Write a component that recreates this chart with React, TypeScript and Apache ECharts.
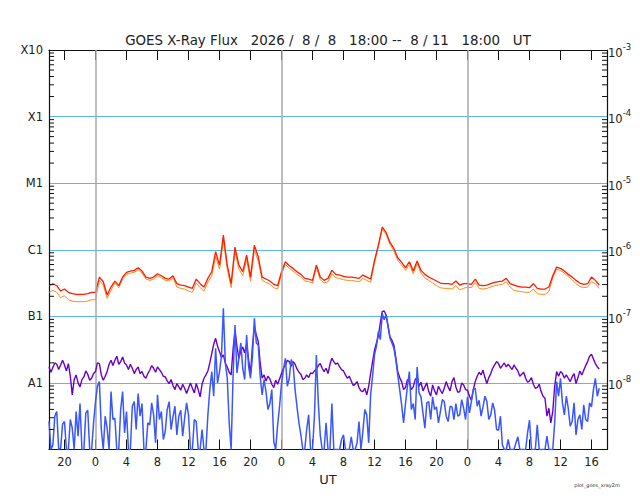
import React, { useEffect, useRef } from "react";
import * as echarts from "echarts";

const TITLE = "GOES X-Ray Flux   2026 /  8 /  8   18:00 --  8 / 11   18:00   UT";
const X_NAME = "UT";
const FOOTNOTE = "plot_goes_xray2m";
const START_HOUR_OF_DAY = 18; // 8/8 18:00 UT
const SPAN_HOURS = 72;
const LONG_STEP_HOURS = 0.5;
const SHORT_STEP_HOURS = 0.25;
const X_TICK_HOURS = [2, 6, 10, 14, 18, 22, 26, 30, 34, 38, 42, 46, 50, 54, 58, 62, 66, 70];
const DAY_BOUNDARY_HOURS = [6, 30, 54];
const MINOR_MULTIPLIERS = [2, 3, 4, 5, 6, 7, 8, 9];
const MINOR_DECADES = [-9, -8, -7, -6, -5, -4];
const CLASS_LABELS: Record<string, string> = { "-3": "X10", "-4": "X1", "-5": "M1", "-6": "C1", "-7": "B1", "-8": "A1", "-9": "" };

// log10 of flux (W/m^2), every 0.5 h from 8/8 18:00 UT (1-8 A)
const LONG_PRIMARY_LOG = [
  -6.54, -6.51, -6.54, -6.62, -6.59, -6.64, -6.66, -6.67, -6.67, -6.67, -6.66, -6.64, -6.64, -6.41, -6.48, -6.68, -6.56, -6.47,
  -6.54, -6.41, -6.34, -6.32, -6.31, -6.27, -6.32, -6.41, -6.43, -6.41, -6.36, -6.39, -6.43, -6.44, -6.39, -6.51, -6.53, -6.54,
  -6.56, -6.58, -6.44, -6.51, -6.56, -6.43, -6.33, -6.03, -6.23, -5.78, -6.23, -6.51, -5.96, -6.23, -6.33, -6.08, -6.41, -5.93,
  -6.11, -6.41, -6.44, -6.47, -6.52, -6.54, -6.33, -6.18, -6.24, -6.28, -6.33, -6.37, -6.43, -6.44, -6.46, -6.23, -6.41, -6.46,
  -6.43, -6.31, -6.37, -6.38, -6.40, -6.41, -6.41, -6.42, -6.43, -6.38, -6.41, -6.44, -6.16, -5.93, -5.66, -5.74, -5.89, -5.98,
  -6.12, -6.19, -6.27, -6.18, -6.32, -6.17, -6.31, -6.37, -6.41, -6.44, -6.47, -6.50, -6.51, -6.51, -6.52, -6.47, -6.53, -6.51,
  -6.51, -6.52, -6.44, -6.53, -6.54, -6.53, -6.51, -6.49, -6.48, -6.47, -6.43, -6.51, -6.53, -6.55, -6.56, -6.56, -6.57, -6.51,
  -6.58, -6.59, -6.59, -6.56, -6.39, -6.26, -6.28, -6.32, -6.37, -6.41, -6.46, -6.50, -6.52, -6.51, -6.41, -6.46, -6.53,
];

const LONG_SECONDARY_LOG = [
  -6.64, -6.61, -6.64, -6.72, -6.69, -6.75, -6.77, -6.78, -6.78, -6.78, -6.77, -6.75, -6.75, -6.46, -6.53, -6.73, -6.61, -6.50,
  -6.57, -6.44, -6.37, -6.35, -6.34, -6.30, -6.35, -6.44, -6.46, -6.44, -6.39, -6.42, -6.46, -6.47, -6.42, -6.56, -6.58, -6.59,
  -6.62, -6.64, -6.50, -6.57, -6.62, -6.49, -6.39, -6.10, -6.29, -5.87, -6.29, -6.57, -6.03, -6.29, -6.39, -6.15, -6.47, -6.00,
  -6.17, -6.46, -6.49, -6.52, -6.57, -6.59, -6.37, -6.22, -6.28, -6.32, -6.37, -6.41, -6.47, -6.48, -6.50, -6.27, -6.45, -6.50,
  -6.48, -6.36, -6.42, -6.43, -6.45, -6.46, -6.46, -6.47, -6.48, -6.43, -6.46, -6.49, -6.20, -5.96, -5.69, -5.77, -5.92, -6.02,
  -6.16, -6.23, -6.31, -6.22, -6.36, -6.21, -6.35, -6.42, -6.46, -6.50, -6.54, -6.57, -6.58, -6.58, -6.59, -6.54, -6.60, -6.58,
  -6.56, -6.57, -6.49, -6.58, -6.59, -6.58, -6.56, -6.54, -6.53, -6.52, -6.48, -6.56, -6.61, -6.62, -6.63, -6.64, -6.64, -6.59,
  -6.66, -6.67, -6.67, -6.63, -6.42, -6.29, -6.31, -6.35, -6.40, -6.45, -6.51, -6.55, -6.57, -6.56, -6.48, -6.51, -6.58,
];

// log10 of flux, every 0.25 h (0.5-4 A)
const SHORT_PRIMARY_LOG = [
  -7.76, -7.84, -7.77, -7.70, -7.72, -7.80, -7.73, -7.66, -7.73, -7.82, -7.71, -7.90, -8.18, -7.95, -7.88, -8.00, -8.06, -7.95,
  -7.91, -7.82, -7.87, -7.96, -7.93, -7.86, -7.83, -7.70, -7.71, -7.88, -7.96, -7.90, -7.83, -7.72, -7.66, -7.74, -7.66, -7.60,
  -7.72, -7.68, -7.61, -7.70, -7.73, -7.80, -7.72, -7.78, -7.86, -7.80, -7.76, -7.86, -7.83, -7.90, -7.93, -7.86, -7.81, -7.74,
  -7.78, -7.84, -7.76, -7.80, -7.84, -7.90, -7.91, -7.97, -8.01, -7.95, -8.04, -8.10, -8.01, -8.06, -8.11, -8.02, -8.08, -8.16,
  -8.08, -8.00, -8.08, -8.15, -8.01, -8.10, -8.21, -8.02, -7.93, -7.88, -7.82, -7.70, -7.56, -7.42, -7.33, -7.45, -7.53, -7.62,
  -7.58, -7.70, -7.76, -7.84, -7.88, -7.50, -7.21, -7.45, -7.63, -7.52, -7.46, -7.55, -7.41, -7.65, -7.86, -7.45, -7.16, -7.28,
  -7.38, -7.70, -7.93, -7.88, -7.97, -7.90, -7.94, -8.02, -8.07, -7.96, -8.02, -7.94, -7.86, -7.78, -7.73, -7.66, -7.68, -7.75,
  -7.68, -7.72, -7.79, -7.84, -7.87, -7.95, -7.93, -7.88, -7.92, -7.85, -7.86, -7.82, -7.79, -7.74, -7.71, -7.78, -7.83, -7.78,
  -7.86, -7.72, -7.63, -7.68, -7.72, -7.70, -7.76, -7.80, -7.82, -7.88, -7.93, -7.90, -7.97, -8.04, -8.02, -7.98, -8.07, -8.12,
  -8.13, -8.08, -8.18, -8.05, -7.86, -7.68, -7.51, -7.40, -7.29, -7.10, -6.93, -6.92, -6.98, -7.15, -7.31, -7.36, -7.43, -7.62,
  -7.83, -7.92, -7.98, -8.10, -8.07, -7.95, -7.98, -8.10, -8.06, -7.95, -7.91, -8.05, -7.99, -8.12, -8.06, -8.00, -8.13, -8.20,
  -8.03, -8.12, -8.18, -8.05, -8.11, -8.16, -8.08, -7.98, -8.06, -8.12, -7.98, -7.92, -8.06, -8.14, -8.13, -8.00, -8.03, -8.10,
  -8.11, -8.20, -8.26, -8.10, -7.98, -7.90, -7.84, -7.88, -7.81, -7.92, -8.01, -7.92, -7.86, -7.78, -7.73, -7.68, -7.71, -7.78,
  -7.74, -7.70, -7.76, -7.72, -7.76, -7.80, -7.73, -7.78, -7.82, -7.90, -7.87, -7.84, -7.93, -7.99, -7.97, -7.92, -8.02, -8.08,
  -8.07, -8.02, -8.13, -8.20, -8.23, -8.50, -8.38, -8.60, -8.43, -8.05, -7.83, -7.90, -7.83, -7.86, -7.93, -7.88, -7.93, -7.98,
  -7.91, -7.86, -8.01, -7.92, -7.82, -7.88, -7.81, -7.74, -7.68, -7.60, -7.57, -7.64, -7.71, -7.76, -7.79,
];

const SHORT_SECONDARY_LOG = [
  -8.58, -9.0, -8.93, -8.50, -8.43, -9.0, -8.98, -8.62, -8.58, -9.0, -9.0, -8.55, -8.68, -9.0, -8.43, -8.80, -8.31, -9.0,
  -9.0, -8.45, -8.41, -9.0, -9.0, -8.60, -8.28, -8.05, -7.98, -8.70, -9.0, -8.50, -8.68, -9.0, -8.13, -8.55, -8.53, -9.0,
  -9.0, -8.40, -8.13, -8.75, -8.43, -9.0, -9.0, -8.35, -8.28, -8.70, -8.16, -8.50, -8.31, -9.0, -9.0, -8.60, -8.63, -8.30,
  -8.48, -8.90, -8.18, -8.55, -8.43, -8.85, -8.73, -8.40, -8.28, -8.70, -8.51, -8.35, -8.78, -8.50, -8.41, -8.80, -8.53, -8.30,
  -8.48, -9.0, -9.0, -8.55, -8.58, -9.0, -9.0, -8.70, -9.0, -9.0, -8.48, -8.10, -7.83, -8.20, -7.48, -8.00, -7.83, -7.60,
  -6.88, -7.70, -7.93, -8.60, -9.0, -7.90, -7.13, -7.85, -7.63, -7.40, -7.78, -7.95, -7.28, -7.75, -7.93, -7.60, -7.03, -7.40,
  -7.43, -7.90, -8.18, -7.95, -8.13, -8.40, -8.31, -8.10, -8.88, -9.0, -8.63, -8.35, -8.01, -7.80, -7.63, -8.05, -7.93, -7.65,
  -7.73, -8.10, -8.36, -8.60, -8.78, -9.0, -9.0, -8.70, -8.48, -9.0, -9.0, -8.50, -7.58, -8.30, -8.78, -9.0, -9.0, -8.60,
  -9.0, -9.0, -8.31, -9.0, -9.0, -9.0, -9.0, -8.85, -8.78, -9.0, -9.0, -9.0, -8.81, -9.0, -9.0, -8.90, -8.58, -9.0,
  -8.73, -8.40, -8.48, -8.90, -8.18, -7.90, -7.58, -7.45, -7.23, -7.35, -6.96, -7.05, -6.98, -7.15, -7.33, -7.40, -7.48, -7.65,
  -7.88, -8.10, -8.33, -8.60, -8.31, -8.05, -7.83, -8.40, -8.31, -8.55, -7.76, -8.15, -8.21, -8.45, -8.68, -8.30, -8.28, -8.55,
  -8.21, -8.40, -8.36, -8.60, -8.43, -8.25, -8.28, -8.50, -8.58, -8.35, -8.36, -8.55, -8.31, -8.50, -8.48, -8.25, -8.38, -8.55,
  -8.21, -8.45, -8.28, -8.10, -8.08, -8.35, -8.26, -8.50, -8.36, -8.20, -8.28, -8.55, -8.48, -8.30, -8.41, -8.70, -8.71, -8.50,
  -8.93, -9.0, -9.0, -8.85, -9.0, -9.0, -9.0, -8.90, -8.81, -9.0, -9.0, -9.0, -9.0, -8.75, -8.56, -9.0, -9.0, -9.0,
  -8.63, -9.0, -9.0, -9.0, -9.0, -8.80, -9.0, -9.0, -9.0, -8.60, -7.98, -8.20, -7.93, -8.30, -8.48, -8.20, -8.38, -8.65,
  -8.58, -8.30, -8.78, -8.55, -8.48, -8.70, -8.33, -8.55, -8.58, -8.30, -8.36, -8.10, -7.93, -8.20, -8.08,
];

const FONT = "DejaVu Sans";
const TEXT_COLOR = "#222";

function toSeriesData(logs: number[], step: number) {
  return logs.map((v, i) => [i * step, Math.pow(10, v)]);
}

export default function App() {
  const ref = useRef<HTMLDivElement>(null);

  useEffect(() => {
    if (!ref.current) return;
    const chart = echarts.init(ref.current, undefined, { renderer: "svg" });
    const minorFlux: number[][] = [];
    MINOR_DECADES.forEach((d) => MINOR_MULTIPLIERS.forEach((m) => minorFlux.push([0, m * Math.pow(10, d)])));
    const grid = { left: 49, right: 33, top: 50, bottom: 50.5 };
    const nb = (s: string) => s.replace(/ /g, "\u00a0");

    const lineSeries = (name: string, logs: number[], step: number, color: string, width: number, z: number) => ({
      type: "line",
      name,
      data: toSeriesData(logs, step),
      xAxisIndex: 0,
      yAxisIndex: 0,
      showSymbol: false,
      symbol: "none",
      clip: true,
      z,
      lineStyle: { color, width },
      itemStyle: { color },
      emphasis: { disabled: true },
    });

    chart.setOption({
      animation: false,
      backgroundColor: "#fff",
      grid,
      xAxis: [
        {
          type: "value",
          min: 0,
          max: SPAN_HOURS,
          position: "bottom",
          axisLine: { show: true, onZero: false, lineStyle: { color: "#111", width: 1.2 } },
          axisTick: { show: true, inside: true, length: 10, customValues: X_TICK_HOURS, lineStyle: { color: "#111", width: 1 } },
          axisLabel: {
            show: true,
            customValues: X_TICK_HOURS,
            margin: 6,
            fontFamily: FONT,
            fontSize: 11.5,
            color: TEXT_COLOR,
            formatter: (v: number) => String((v + START_HOUR_OF_DAY) % 24),
          },
          splitLine: { show: false },
        },
        {
          type: "value",
          min: 0,
          max: SPAN_HOURS,
          position: "top",
          axisLine: { show: true, onZero: false, lineStyle: { color: "#111", width: 1.2 } },
          axisTick: { show: true, inside: true, length: 10, customValues: X_TICK_HOURS, lineStyle: { color: "#111", width: 1 } },
          axisLabel: { show: false },
          splitLine: { show: false },
        },
      ],
      yAxis: [
        {
          type: "log",
          logBase: 10,
          min: 1e-9,
          max: 1e-3,
          position: "left",
          splitNumber: 6,
          axisLine: { show: true, onZero: false, lineStyle: { color: "#111", width: 1.2 } },
          axisTick: { show: false },
          axisLabel: {
            margin: 6,
            fontFamily: FONT,
            fontSize: 11.5,
            color: TEXT_COLOR,
            formatter: (v: number) => CLASS_LABELS[String(Math.round(Math.log10(v)))] ?? "",
          },
          splitLine: { show: true, lineStyle: { color: "#5cb6f2", width: 1.2 } },
        },
        {
          type: "log",
          logBase: 10,
          min: 1e-9,
          max: 1e-3,
          position: "right",
          splitNumber: 6,
          axisLine: { show: true, onZero: false, lineStyle: { color: "#111", width: 1.2 } },
          axisTick: { show: false },
          axisLabel: {
            margin: 1,
            formatter: (v: number) => {
              const n = Math.round(Math.log10(v));
              if (n === -9) return "";
              return `{b|10}{s|${n}}`;
            },
            rich: {
              b: { fontFamily: FONT, fontSize: 11.5, color: TEXT_COLOR, lineHeight: 16, padding: [5, 0, 0, 0] },
              s: { fontFamily: FONT, fontSize: 8.5, color: TEXT_COLOR, verticalAlign: "top", lineHeight: 16 },
            },
          },
          splitLine: { show: false },
        },
      ],
      graphic: [
        {
          type: "text",
          x: 328,
          y: 40,
          style: { text: nb(TITLE), fontFamily: FONT, fontSize: 13.4, fill: TEXT_COLOR, align: "center", verticalAlign: "middle" },
        },
        {
          type: "text",
          x: 328,
          y: 479,
          style: { text: X_NAME, fontFamily: FONT, fontSize: 13, fill: TEXT_COLOR, align: "center", verticalAlign: "middle" },
        },
        {
          type: "text",
          x: 597,
          y: 485,
          style: { text: FOOTNOTE, fontFamily: FONT, fontSize: 5, fill: "#333", align: "center", verticalAlign: "middle" },
        },
      ],
      series: [
        {
          type: "line",
          name: "dayBoundaries",
          data: [[0, 1e-9]],
          xAxisIndex: 0,
          yAxisIndex: 0,
          showSymbol: false,
          symbol: "none",
          z: 1,
          lineStyle: { width: 0 },
          markLine: {
            silent: true,
            symbol: ["none", "none"],
            label: { show: false },
            lineStyle: { color: "#a9a9a9", width: 1.5, type: "solid" },
            data: DAY_BOUNDARY_HOURS.map((h) => ({ xAxis: h })),
          },
        },
        lineSeries("1-8A secondary", LONG_SECONDARY_LOG, LONG_STEP_HOURS, "#ff8c1a", 1, 3),
        lineSeries("1-8A primary", LONG_PRIMARY_LOG, LONG_STEP_HOURS, "#ff1a00", 1.3, 4),
        lineSeries("0.5-4A primary", SHORT_PRIMARY_LOG, SHORT_STEP_HOURS, "#6a00c8", 1.4, 5),
        lineSeries("0.5-4A secondary", SHORT_SECONDARY_LOG, SHORT_STEP_HOURS, "#3a56ff", 1.5, 6),
        {
          type: "custom",
          name: "minorTicks",
          xAxisIndex: 0,
          yAxisIndex: 0,
          silent: true,
          z: 8,
          clip: false,
          data: minorFlux,
          renderItem: (_params: any, api: any) => {
            const v = api.value(1);
            const pL = api.coord([0, v]);
            const pR = api.coord([SPAN_HOURS, v]);
            const st = { stroke: "#111", lineWidth: 1 };
            return {
              type: "group",
              children: [
                { type: "line", shape: { x1: pL[0], y1: pL[1], x2: pL[0] + 5, y2: pL[1] }, style: st },
                { type: "line", shape: { x1: pR[0] - 5, y1: pR[1], x2: pR[0], y2: pR[1] }, style: st },
              ],
            };
          },
        },
      ],
    });

    return () => chart.dispose();
  }, []);

  return <div ref={ref} style={{ position: "fixed", left: 0, top: 0, width: 640, height: 500 }} />;
}
